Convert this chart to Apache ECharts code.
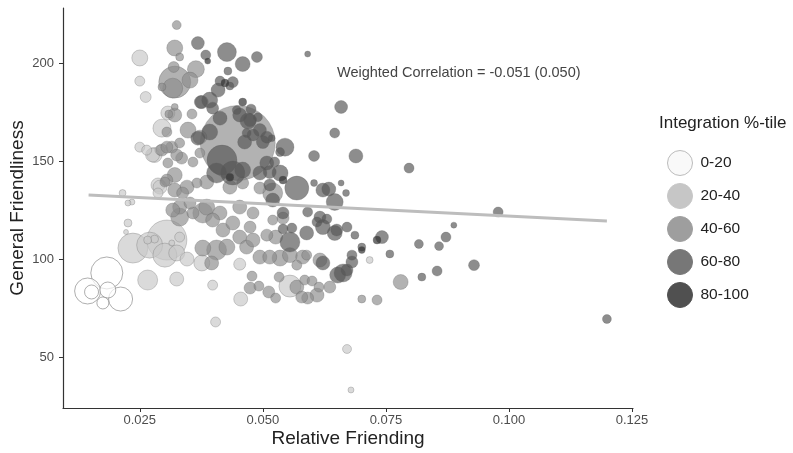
<!DOCTYPE html>
<html>
<head>
<meta charset="utf-8">
<script src="https://cdn.jsdelivr.net/npm/echarts@6/dist/echarts.min.js"></script>
<style>
  html, body { margin: 0; padding: 0; background: #fff; }
  #chart { width: 793px; height: 453px; }
</style>
</head>
<body>
<div id="chart"></div>
<script>
// [relative friending, general friendliness, weight]
var pct0_20 = [
  [0.0183, 92.9, 256], [0.0144, 83.7, 169], [0.0211, 79.6, 144], [0.0185, 84.2, 64],
  [0.0152, 83.2, 49], [0.0175, 77.6, 36]
];
var pct20_40 = [
  [0.0305, 109.7, 400], [0.0236, 105.6, 225], [0.0270, 107.1, 169], [0.0301, 102.0, 144],
  [0.0555, 86.2, 121], [0.0266, 89.3, 100], [0.0295, 166.8, 81], [0.0250, 202.6, 64],
  [0.0325, 103.1, 64], [0.0376, 98.0, 64], [0.0280, 153.1, 56], [0.0346, 100.0, 49],
  [0.0325, 89.8, 49], [0.0455, 79.6, 49], [0.0276, 153.1, 49], [0.0307, 174.5, 49],
  [0.0287, 137.8, 49], [0.0291, 136.7, 49], [0.0453, 97.4, 36], [0.0262, 182.7, 30],
  [0.0250, 190.8, 25], [0.0331, 111.2, 25], [0.0398, 86.7, 25], [0.0404, 67.9, 25],
  [0.0250, 157.1, 25], [0.0264, 155.6, 25], [0.0291, 155.6, 25], [0.0287, 133.7, 25],
  [0.0671, 54.1, 20], [0.0226, 118.4, 16], [0.0280, 110.2, 16], [0.0266, 109.7, 16],
  [0.0215, 133.7, 12], [0.0717, 99.5, 12], [0.0234, 129.1, 9], [0.0226, 128.6, 9],
  [0.0315, 108.2, 9], [0.0679, 33.2, 9], [0.0222, 113.8, 6]
];
var pct40_60 = [
  [0.0449, 159.2, 1406], [0.0321, 190.3, 256], [0.0317, 187.2, 100], [0.0378, 123.5, 100],
  [0.0406, 104.6, 100], [0.0520, 133.7, 100], [0.0331, 121.4, 81], [0.0364, 196.9, 72],
  [0.0321, 207.7, 64], [0.0352, 191.3, 64], [0.0348, 165.8, 64], [0.0386, 126.5, 64],
  [0.0378, 105.6, 64], [0.0427, 106.1, 64], [0.0535, 100.5, 64], [0.0321, 142.9, 56],
  [0.0780, 88.3, 56], [0.0555, 102.0, 56], [0.0321, 173.5, 49], [0.0372, 162.2, 49],
  [0.0321, 135.2, 49], [0.0346, 136.7, 49], [0.0386, 139.3, 49], [0.0331, 126.5, 49],
  [0.0413, 123.5, 49], [0.0317, 125.0, 49], [0.0398, 119.9, 49], [0.0396, 98.0, 49],
  [0.0419, 114.8, 49], [0.0439, 118.4, 49], [0.0453, 111.2, 49], [0.0467, 106.1, 49],
  [0.0480, 109.7, 49], [0.0569, 85.7, 49], [0.0610, 81.6, 49], [0.0433, 136.7, 49],
  [0.0453, 126.5, 49], [0.0494, 101.0, 49], [0.0514, 101.0, 49], [0.0526, 111.2, 49],
  [0.0616, 99.5, 49], [0.0581, 101.0, 49], [0.0376, 180.1, 42], [0.0295, 155.6, 36],
  [0.0315, 157.1, 36], [0.0335, 151.5, 36], [0.0305, 157.1, 36], [0.0325, 153.1, 36],
  [0.0305, 140.3, 36], [0.0358, 123.5, 36], [0.0337, 133.7, 36], [0.0352, 128.6, 36],
  [0.0474, 116.3, 36], [0.0474, 85.2, 36], [0.0512, 83.2, 36], [0.0591, 80.1, 36],
  [0.0579, 80.6, 36], [0.0636, 85.7, 36], [0.0494, 136.2, 36], [0.0459, 138.8, 36],
  [0.0480, 123.5, 36], [0.0508, 112.2, 36], [0.0541, 120.9, 36], [0.0319, 198.0, 30],
  [0.0356, 174.0, 25], [0.0305, 164.8, 25], [0.0358, 149.5, 25], [0.0301, 139.3, 25],
  [0.0331, 159.2, 25], [0.0307, 149.0, 25], [0.0372, 154.1, 25], [0.0366, 138.8, 25],
  [0.0478, 91.3, 25], [0.0492, 86.2, 25], [0.0526, 80.1, 25], [0.0533, 90.8, 25],
  [0.0585, 89.3, 25], [0.0600, 88.8, 25], [0.0614, 85.7, 25], [0.0732, 79.1, 25],
  [0.0569, 96.9, 25], [0.0520, 119.9, 25], [0.0589, 102.0, 25], [0.0325, 219.4, 20],
  [0.0331, 203.1, 16], [0.0295, 187.8, 16], [0.0309, 174.0, 16], [0.0701, 79.6, 16],
  [0.0321, 177.6, 12]
];
var pct60_80 = [
  [0.0417, 150.5, 225], [0.0569, 136.2, 144], [0.0439, 143.9, 144], [0.0406, 143.9, 100],
  [0.0555, 108.7, 100], [0.0427, 205.6, 90], [0.0545, 157.1, 81], [0.0663, 92.9, 81],
  [0.0646, 129.1, 72], [0.0392, 181.1, 64], [0.0459, 145.4, 64], [0.0535, 143.9, 64],
  [0.0392, 164.8, 64], [0.0470, 170.4, 64], [0.0652, 91.8, 64], [0.0459, 199.5, 56],
  [0.0646, 113.3, 56], [0.0622, 116.3, 56], [0.0409, 186.2, 49], [0.0689, 152.6, 49],
  [0.0634, 135.7, 49], [0.0622, 135.2, 49], [0.0494, 143.9, 49], [0.0508, 149.0, 49],
  [0.0368, 161.7, 49], [0.0463, 159.7, 49], [0.0413, 171.9, 49], [0.0453, 173.5, 49],
  [0.0589, 113.3, 49], [0.0520, 130.1, 49], [0.0622, 98.0, 49], [0.0368, 210.2, 42],
  [0.0374, 180.1, 42], [0.0474, 170.9, 42], [0.0494, 165.8, 42], [0.0500, 159.7, 42],
  [0.0514, 144.4, 42], [0.0659, 177.6, 42], [0.0742, 111.2, 42], [0.0681, 98.5, 36],
  [0.0514, 137.8, 36], [0.0480, 163.3, 36], [0.0508, 162.2, 36], [0.0398, 177.0, 36],
  [0.0650, 114.8, 36], [0.0671, 94.4, 36], [0.0616, 121.4, 36], [0.0541, 123.5, 36],
  [0.0488, 203.1, 30], [0.0439, 190.3, 30], [0.0604, 152.6, 30], [0.0929, 96.9, 30],
  [0.0384, 204.1, 25], [0.0476, 176.5, 25], [0.0524, 149.5, 25], [0.0646, 164.3, 25],
  [0.0797, 146.4, 25], [0.0978, 124.0, 25], [0.0872, 111.2, 25], [0.0854, 93.9, 25],
  [0.0413, 190.8, 25], [0.0671, 116.3, 25], [0.0681, 102.0, 25], [0.0630, 120.4, 25],
  [0.0610, 118.9, 25], [0.0591, 124.0, 25], [0.0559, 115.8, 25], [0.0541, 115.3, 25],
  [0.0447, 176.0, 20], [0.0490, 172.4, 20], [0.0467, 164.3, 20], [0.0535, 154.6, 20],
  [0.0817, 107.7, 20], [0.0858, 106.6, 20], [0.1199, 69.4, 20], [0.0429, 195.9, 16],
  [0.0433, 188.3, 16], [0.0758, 102.6, 16], [0.0701, 106.1, 16], [0.0823, 90.8, 16],
  [0.0687, 112.2, 16], [0.0518, 161.7, 12], [0.0604, 138.8, 12], [0.0669, 133.7, 12],
  [0.0591, 204.6, 9], [0.0659, 138.8, 9], [0.0888, 117.3, 9]
];
var pct80_100 = [
  [0.0423, 189.8, 16], [0.0459, 180.1, 16], [0.0732, 109.7, 16], [0.0433, 141.8, 16],
  [0.0541, 140.3, 16], [0.0701, 104.6, 12], [0.0388, 201.0, 9]
];

var groupNames = ['0-20', '20-40', '40-60', '60-80', '80-100'];
var groupData = [pct0_20, pct20_40, pct40_60, pct60_80, pct80_100];
var fillColors = ['#ffffff', '#c8c8c8', '#8e8e8e', '#575757', '#2c2c2c'];
var keyColors = ['#f9f9f9', '#c6c6c6', '#9e9e9e', '#777777', '#505050'];

// weighted fit line
var fitX = [0.0146, 0.1199];
var fitY = [132.7, 119.4];

var xTicks = [0.025, 0.05, 0.075, 0.1, 0.125];
var yTicks = [50, 100, 150, 200];

var chart = echarts.init(document.getElementById('chart'));

var series = groupData.map(function (d, i) {
  return {
    name: groupNames[i],
    type: 'scatter',
    data: d,
    z: 2 + i,
    symbolSize: function (v) { return 2 * Math.sqrt(v[2]); },
    itemStyle: {
      color: fillColors[i],
      opacity: 0.68,
      borderColor: i === 0 ? '#888' : 'rgba(90,90,90,0.4)',
      borderWidth: 1
    },
    emphasis: { disabled: true }
  };
});

series.push({
  type: 'line',
  data: fitX.map(function (x, i) { return [x, fitY[i]]; }),
  symbol: 'none',
  z: 10,
  lineStyle: { color: '#bdbdbd', width: 3 },
  silent: true
});

chart.setOption({
  animation: false,
  textStyle: { fontFamily: 'Liberation Sans, Arial, sans-serif' },
  grid: { left: 63, right: 160, top: 8, bottom: 45, outerBoundsMode: 'none' },
  xAxis: {
    type: 'value',
    min: 0.0094,
    max: 0.1252,
    name: 'Relative Friending',
    nameLocation: 'middle',
    nameGap: 21,
    nameMoveOverlap: false,
    nameTextStyle: { fontSize: 19, color: '#222' },
    axisLine: { lineStyle: { color: '#333', width: 1.2 } },
    axisTick: { customValues: xTicks, length: 4, lineStyle: { color: '#333' } },
    axisLabel: {
      customValues: xTicks, fontSize: 13, color: '#4d4d4d', margin: 6,
      formatter: function (v) { return v.toFixed(3); }
    },
    splitLine: { show: false }
  },
  yAxis: {
    type: 'value',
    min: 24,
    max: 228.1,
    name: 'General Friendliness',
    nameLocation: 'middle',
    nameGap: 36,
    nameMoveOverlap: false,
    nameTextStyle: { fontSize: 19, color: '#222' },
    axisLine: { show: true, lineStyle: { color: '#333', width: 1.2 } },
    axisTick: { show: true, customValues: yTicks, length: 4, lineStyle: { color: '#333' } },
    axisLabel: { customValues: yTicks, fontSize: 13, color: '#4d4d4d', margin: 9 },
    splitLine: { show: false }
  },
  legend: {
    orient: 'vertical',
    left: 662,
    top: 145,
    itemWidth: 25,
    itemHeight: 25,
    itemGap: 7,
    icon: 'circle',
    textStyle: { fontSize: 15.5, color: '#222', padding: [0, 0, 0, 3] },
    data: groupNames.map(function (n, i) {
      return {
        name: n,
        itemStyle: {
          color: keyColors[i], opacity: 1,
          borderColor: i === 0 ? '#bbbbbb' : keyColors[i], borderWidth: 1
        }
      };
    })
  },
  graphic: [
    {
      type: 'text', left: 659, top: 115,
      style: { text: 'Integration %-tile', fontSize: 17, fill: '#222', fontFamily: 'Liberation Sans' }
    },
    {
      type: 'text', left: 337, top: 65,
      style: { text: 'Weighted Correlation = -0.051 (0.050)', fontSize: 14.5, fill: '#444', fontFamily: 'Liberation Sans' }
    }
  ],
  series: series
});
</script>
</body>
</html>
